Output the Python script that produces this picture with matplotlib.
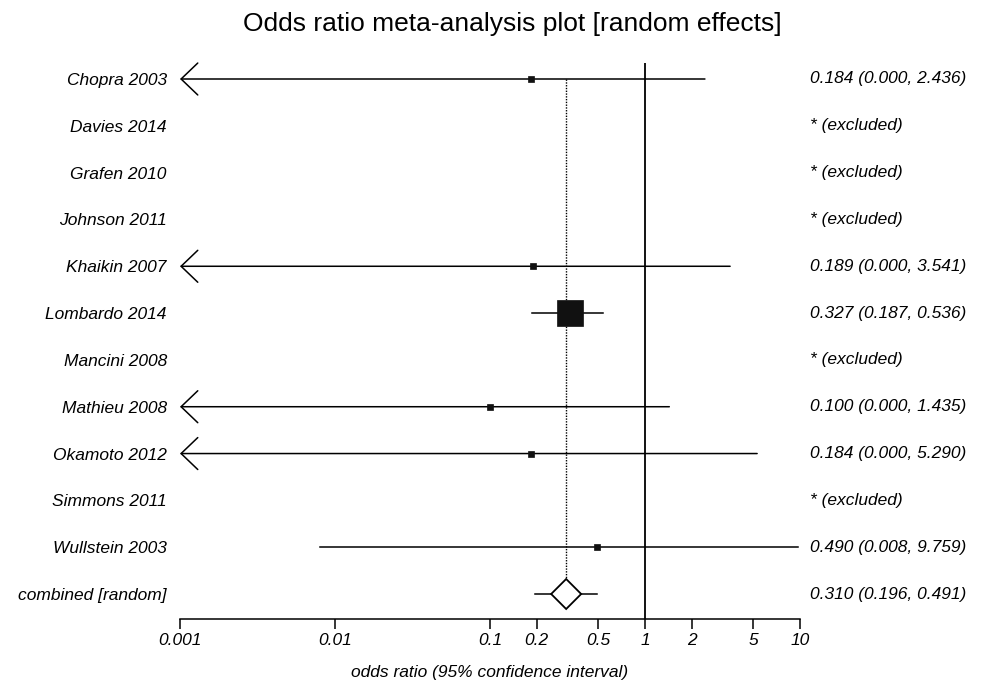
import numpy as np
import matplotlib.pyplot as plt
from matplotlib import transforms

plt.rcParams['font.family'] = ['Liberation Sans', 'DejaVu Sans']

studies = ['Chopra 2003', 'Davies 2014', 'Grafen 2010', 'Johnson 2011',
           'Khaikin 2007', 'Lombardo 2014', 'Mancini 2008', 'Mathieu 2008',
           'Okamoto 2012', 'Simmons 2011', 'Wullstein 2003']
odds = [0.184, np.nan, np.nan, np.nan, 0.189, 0.327, np.nan, 0.100,
        0.184, np.nan, 0.490]
lower = [0.000, np.nan, np.nan, np.nan, 0.000, 0.187, np.nan, 0.000,
         0.000, np.nan, 0.008]
upper = [2.436, np.nan, np.nan, np.nan, 3.541, 0.536, np.nan, 1.435,
         5.290, np.nan, 9.759]
weights = [3.4, 0, 0, 0, 3.4, 83.0, 0, 3.4, 3.4, 0, 3.4]  # % weight (estimated)

pooled = 0.310
pooled_lo = 0.196
pooled_hi = 0.491
pooled_label = 'combined [random]'

xticks = [0.001, 0.01, 0.1, 0.2, 0.5, 1, 2, 5, 10]
xticklabels = ['0.001', '0.01', '0.1', '0.2', '0.5', '1', '2', '5', '10']

FS = 12.5

W, H = 988, 685
fig = plt.figure(figsize=(W / 100, H / 100), dpi=100)
ax = fig.add_axes([180 / W, 1 - 619 / H, 620 / W, (619 - 63) / H])

xmin, xmax = 0.001, 10
ax.set_xscale('log')
ax.set_xlim(xmin, xmax)
n = len(studies) + 1
row_px = (594 - 79) / (n - 1)
ax.set_ylim((619 - 79) / row_px, (63 - 79) / row_px)

# reference lines
ax.axvline(1, color='black', lw=1.3, zorder=1)
ax.plot([pooled, pooled], [0, n - 1 - 15 / row_px], color='black', lw=1,
        ls=(0, (1, 1)), zorder=1)

for i in range(len(studies)):
    if np.isnan(odds[i]):
        continue
    lo = lower[i]
    hi = upper[i]
    if lo < xmin:
        ax.annotate('', xy=(xmin, i), xytext=(min(hi, xmax), i),
                    arrowprops=dict(arrowstyle='->,head_length=12,head_width=11.5',
                                    mutation_scale=1, lw=1.1, color='black',
                                    shrinkA=0, shrinkB=0), zorder=2)
    else:
        ax.plot([lo, min(hi, xmax)], [i, i], color='black', lw=1.1, zorder=2)
    side = np.sqrt(weights[i]) * 2.9 * 0.72
    ax.plot(odds[i], i, marker='s', ms=side, color='#111111', mec='#111111',
            mew=0.5, zorder=3)

# pooled diamond
yd = n - 1
hh = 15 / row_px
ax.plot([pooled_lo, pooled_hi], [yd, yd], color='black', lw=1.1, zorder=2)
dx = 10 ** (15 / 155)
ax.fill([pooled / dx, pooled, pooled * dx, pooled, pooled / dx],
        [yd, yd - hh, yd, yd + hh, yd], facecolor='white', edgecolor='black',
        lw=1.3, zorder=3)

# left labels
ax.set_yticks(range(n))
ax.set_yticklabels(studies + [pooled_label], fontstyle='italic', fontsize=FS)
ax.tick_params(axis='y', length=0, pad=9.5)

# right labels
trans = transforms.blended_transform_factory(ax.transAxes, ax.transData)
for i in range(len(studies)):
    if np.isnan(odds[i]):
        txt = '* (excluded)'
    else:
        txt = '%.3f (%.3f, %.3f)' % (odds[i], lower[i], upper[i])
    ax.text(1.016, i, txt, transform=trans, ha='left', va='center',
            fontstyle='italic', fontsize=FS)
ax.text(1.016, yd, '%.3f (%.3f, %.3f)' % (pooled, pooled_lo, pooled_hi),
        transform=trans, ha='left', va='center', fontstyle='italic', fontsize=FS)

ax.set_xticks(xticks)
ax.set_xticklabels(xticklabels, fontstyle='italic', fontsize=FS)
ax.minorticks_off()
ax.tick_params(axis='x', direction='out', length=7, width=1.1, pad=3)
for s in ['top', 'left', 'right']:
    ax.spines[s].set_visible(False)
ax.spines['bottom'].set_linewidth(1.1)
ax.set_xlabel('odds ratio (95% confidence interval)', fontstyle='italic',
              fontsize=FS, labelpad=12)

fig.text(512 / W, 1 - 24 / H, 'Odds ratio meta-analysis plot [random effects]',
         ha='center', va='center', fontsize=19)

fig.savefig('out.png', dpi=100)
